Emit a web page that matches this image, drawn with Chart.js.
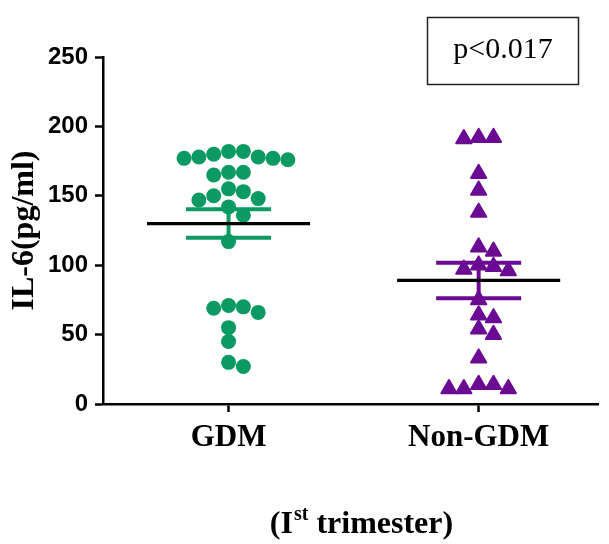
<!DOCTYPE html>
<html><head><meta charset="utf-8">
<script src="https://cdn.jsdelivr.net/npm/chart.js@4.4.1/dist/chart.umd.min.js"></script>
<style>html,body{margin:0;padding:0;background:#fff}#wrap{width:609px;height:544px;position:relative}</style>
</head><body><div id="wrap"><canvas id="c" width="609" height="544"></canvas></div>
<script>
// ---- data ----
const categories = ['GDM', 'Non-GDM'];
const gdmValues = [180,178,177,177,178,176,182,182,167,165,167,155,150,147,148,153,142,136,117,70,66,69,71,55,45,27,30];
const nonGdmValues = [192,191,192,166,154,138,113,110,100,96,97,99,75,64,62,54,50,33,14,11,11,11,14];
const yTicks = [0,50,100,150,200,250];
const pValueLabel = 'p<0.017';
const yTitle = 'IL-6(pg/ml)';
const xTitleParts = ['(I', 'st', ' trimester)'];

// ---- style / layout constants ----
const GREEN = '#0b9a61', PURPLE = '#6b0b93';
const STEP = 15/253;   // horizontal swarm step (x units)
const ROW = 8.6;       // vertical collision distance (y units)
const MEAN_HALF = 0.326, CAP_HALF = 0.17;

function swarm(values, center) {
  const order = values.map((v,i)=>i).sort((a,b)=>values[b]-values[a]);
  const placed = [];
  const out = new Array(values.length);
  for (const i of order) {
    const v = values[i];
    for (let n = 0; ; n++) {
      const k = n === 0 ? 0 : (n % 2 ? (n+1)/2 : -n/2);
      if (placed.every(p => Math.abs(p.k-k) >= 1 || Math.abs(p.v-v) >= ROW)) {
        placed.push({k, v}); out[i] = {x: center + k*STEP, y: v}; break;
      }
    }
  }
  return out;
}
function mean(a){ return a.reduce((s,v)=>s+v,0)/a.length; }
function sem(a){ const m = mean(a); const sd = Math.sqrt(a.reduce((s,v)=>s+(v-m)*(v-m),0)/(a.length-1)); return sd/Math.sqrt(a.length); }
function meanLine(a, c){ const m = mean(a); return [{x:c-MEAN_HALF,y:m},{x:c+MEAN_HALF,y:m}]; }
function errBar(a, c){
  const m = mean(a), s = sem(a), hi = m+s, lo = m-s;
  return [{x:c-CAP_HALF,y:hi},{x:c+CAP_HALF,y:hi},{x:c,y:null},{x:c,y:hi},{x:c,y:lo},{x:c,y:null},{x:c-CAP_HALF,y:lo},{x:c+CAP_HALF,y:lo}];
}

const extras = {
  id: 'extras',
  beforeDatasetsDraw(chart){ chart.ctx.save(); chart.ctx.lineJoin = 'round'; },
  afterDatasetsDraw(chart){ chart.ctx.restore(); },
  afterDraw(chart){
    const ctx = chart.ctx, ca = chart.chartArea;
    ctx.save();
    ctx.fillStyle = '#000';
    // y title
    ctx.save();
    ctx.translate(25, (ca.top+ca.bottom)/2);
    ctx.rotate(-Math.PI/2);
    ctx.font = 'bold 32px "Liberation Serif"';
    ctx.textAlign = 'center'; ctx.textBaseline = 'middle';
    ctx.fillText(yTitle, 0, 0);
    ctx.restore();
    // x title with superscript
    const big = 'bold 32px "Liberation Serif"', small = 'bold 20px "Liberation Serif"';
    ctx.font = big; const w1 = ctx.measureText(xTitleParts[0]).width, w3 = ctx.measureText(xTitleParts[2]).width;
    ctx.font = small; const w2 = ctx.measureText(xTitleParts[1]).width;
    let x = 361 - (w1+w2+w3)/2; const base = 533;
    ctx.textAlign = 'left'; ctx.textBaseline = 'alphabetic';
    ctx.font = big; ctx.fillText(xTitleParts[0], x, base); x += w1;
    ctx.font = small; ctx.fillText(xTitleParts[1], x + 1, base - 13); x += w2 + 1;
    ctx.font = big; ctx.fillText(xTitleParts[2], x, base);
    // p-value box
    ctx.strokeStyle = '#222'; ctx.lineWidth = 1.5;
    ctx.strokeRect(427.5, 17.5, 151, 67);
    ctx.font = '30px "Liberation Serif"';
    ctx.textAlign = 'center'; ctx.textBaseline = 'middle';
    ctx.fillText(pValueLabel, 503, 50);
    ctx.restore();
  }
};

const axisGrid = {display:true, drawOnChartArea:false, drawTicks:true, tickLength:8, tickWidth:2.5, tickColor:'#000', color:'#000'};
const axisBorder = {display:true, color:'#000', width:2.5};

new Chart(document.getElementById('c'), {
  type: 'scatter',
  data: { datasets: [
    { data: swarm(gdmValues, 1), pointStyle:'circle', pointRadius:7.5, backgroundColor:GREEN, borderColor:GREEN, borderWidth:0, order:3 },
    { data: swarm(nonGdmValues, 2), pointStyle:'triangle', pointRadius:8.8, backgroundColor:PURPLE, borderColor:PURPLE, borderWidth:2, order:3 },
    { data: errBar(gdmValues, 1), showLine:true, spanGaps:false, pointRadius:0, borderColor:GREEN, borderWidth:4, order:2 },
    { data: errBar(nonGdmValues, 2), showLine:true, spanGaps:false, pointRadius:0, borderColor:PURPLE, borderWidth:4, order:2 },
    { data: meanLine(gdmValues, 1), showLine:true, pointRadius:0, borderColor:'#000', borderWidth:3.2, order:1 },
    { data: meanLine(nonGdmValues, 2), showLine:true, pointRadius:0, borderColor:'#000', borderWidth:3.2, order:1 }
  ]},
  options: {
    responsive:false, devicePixelRatio:1, animation:false,
    layout:{padding:{top:57, right:0, left:0, bottom:0}},
    plugins:{legend:{display:false}, tooltip:{enabled:false}},
    scales:{
      x:{ type:'linear', min:0.498, max:2.478,
          afterBuildTicks(s){ s.ticks = categories.map((c,i)=>({value:i+1})); },
          afterFit(s){ s.height = 140; s.paddingLeft = 0; s.paddingRight = 0; },
          ticks:{ callback:(v)=>categories[v-1], color:'#000', padding:7, maxRotation:0, autoSkip:false,
                  font:{family:'"Liberation Serif"', size:31, weight:'bold'} },
          grid:axisGrid, border:axisBorder },
      y:{ min:0, max:250,
          afterBuildTicks(s){ s.ticks = yTicks.map(v=>({value:v})); },
          afterFit(s){ s.width = 103; s.paddingTop = 0; s.paddingBottom = 0; },
          ticks:{ color:'#000', padding:7, font:{family:'"Liberation Sans"', size:24, weight:'bold'} },
          grid:axisGrid, border:axisBorder }
    }
  },
  plugins:[extras]
});
</script></body></html>
